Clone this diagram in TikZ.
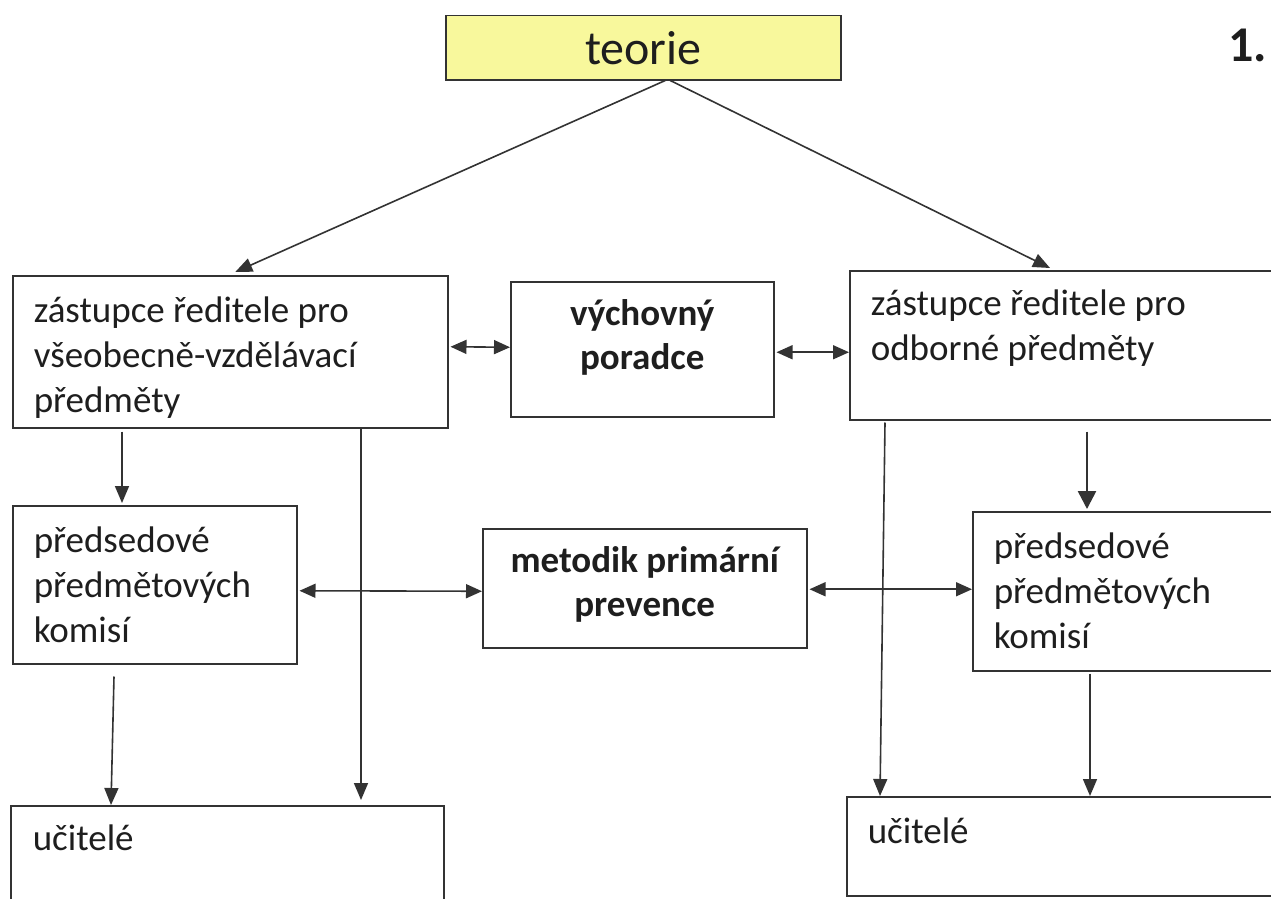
\documentclass[tikz,border=0pt]{standalone}
\usepackage{fontspec}
\setmainfont{Carlito}
\usetikzlibrary{arrows.meta,calc}
\definecolor{ln}{HTML}{333333}
\definecolor{tx}{HTML}{1E1E1E}
\definecolor{yel}{HTML}{F8F89C}
% #1 width, #2 height, #3 first baseline from top, #4 left pad, #5 text
\newcommand{\bxl}[5]{\parbox[c][#2pt][t]{#1pt}{\raggedright\leftskip=#4pt\relax\rule{0pt}{#3pt}#5}}
\newcommand{\bxc}[4]{\parbox[c][#2pt][t]{#1pt}{\centering\rule{0pt}{#3pt}#4}}
\begin{document}
\begin{tikzpicture}[x=1pt,y=-1pt,
  box/.style={draw=ln, line width=1.5pt, inner sep=0pt, anchor=north west, text=tx, font=\fontsize{37}{45}\selectfont},
  bbox/.style={box, font=\fontsize{37}{44}\selectfont\bfseries},
  conn/.style={draw=ln, line width=1.6pt, -{Triangle[length=17pt,width=14pt]}},
  dconn/.style={draw=ln, line width=1.6pt, {Triangle[length=16pt,width=14pt]}-{Triangle[length=16pt,width=14pt]}}]
\useasboundingbox (0,0) rectangle (1271,899);
\clip (0,0) rectangle (1271,899);
\fill[white] (0,0) rectangle (1271,899);

% nodes
\node[box, fill=yel, minimum width=395pt, minimum height=64pt, font=\fontsize{48}{56}\selectfont] (T) at (445,15) {teorie};
\node[anchor=base west, inner sep=0pt, text=tx, font=\fontsize{50}{60}\selectfont\bfseries] (N) at (1228,62) {1.};

\node[box] (ZL) at (12,275) {\bxl{435}{152}{47}{21}{zástupce ředitele pro\\všeobecně-vzdělávací\\předměty}};
\node[bbox] (VP) at (510,281) {\bxc{263}{135}{44}{výchovný\\poradce}};
\node[box] (ZR) at (849,270) {\bxl{500}{149}{45}{21}{zástupce ředitele pro\\odborné předměty}};

\node[box] (LP) at (12,505) {\bxl{284}{158}{47}{21}{předsedové\\předmětových\\komisí}};
\node[bbox] (MP) at (482,528) {\bxc{324}{119}{44}{metodik primární\\prevence}};
\node[box] (RP) at (972,511) {\bxl{400}{159}{47}{21}{předsedové\\předmětových\\komisí}};

\node[box] (LU) at (10,805) {\bxl{433}{150}{45}{22}{učitelé}};
\node[box] (RU) at (846,796) {\bxl{500}{99}{47}{21}{učitelé}};

% connectors
\draw[conn] ($(T.south)+(22,0)$) -- ($(ZL.north)+(5,-3)$);
\draw[conn] ($(T.south)+(27,0)$) -- ($(ZR.north west)+(201,-2)$);

\draw[dconn] ($(ZL.east)+(2,-5)$) -- ($(VP.west)+(0,-2)$);
\draw[dconn] ($(VP.east)+(2,3)$) -- ($(ZR.west)+(0,7)$);

\draw[dconn] ($(LP.east)+(2,6)$) -- ($(MP.west)+(0,3)$);
\draw[dconn] ($(MP.east)+(2,1)$) -- ($(RP.west)+(0,-2)$);

\draw[conn] ($(ZL.south west)+(110,3)$) -- ($(LP.north west)+(110,-2)$);
\draw[conn] ($(ZL.south west)+(349,0)$) -- ($(LU.north west)+(351,-5)$);
\draw[conn] ($(LP.south west)+(102,12)$) -- ($(LU.north west)+(101,0)$);

\draw[conn] ($(ZR.south west)+(36,2)$) -- ($(RU.north west)+(34,0)$);
\draw[draw=ln, line width=2.6pt, -{Triangle[length=18pt,width=18pt]}] ($(ZR.south west)+(238,11)$) -- ($(RP.north west)+(115,-2)$);
\draw[conn] ($(RP.south west)+(118,2)$) -- ($(RU.north west)+(244,0)$);
\end{tikzpicture}
\end{document}
